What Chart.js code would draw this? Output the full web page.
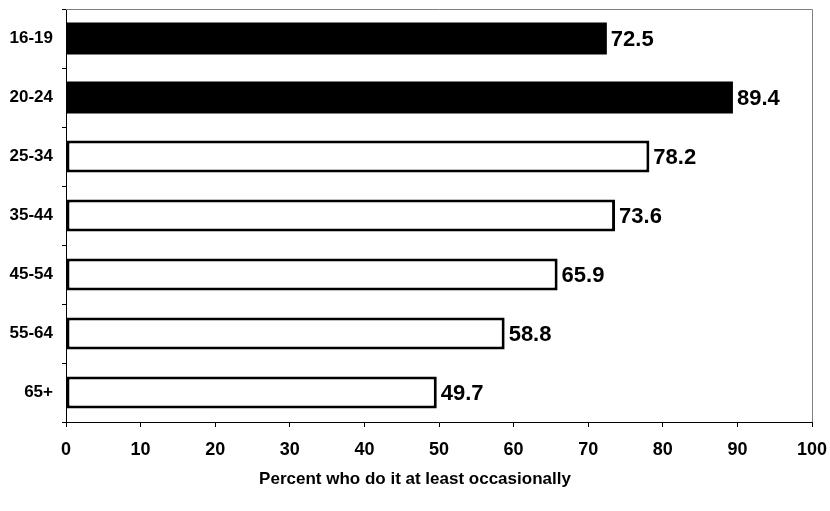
<!DOCTYPE html>
<html>
<head>
<meta charset="utf-8">
<script src="https://cdn.jsdelivr.net/npm/chart.js@4"></script>
<style>
  html, body { margin: 0; padding: 0; background: #fff; }
  canvas { display: block; }
</style>
</head>
<body>
<canvas id="chart" width="830" height="511"></canvas>
<script>
// Age groups and the share who do it at least occasionally (%)
const ageGroups = ['16-19', '20-24', '25-34', '35-44', '45-54', '55-64', '65+'];
const percentValues = [72.5, 89.4, 78.2, 73.6, 65.9, 58.8, 49.7];
// Youngest two groups are highlighted as solid bars
const highlighted = [true, true, false, false, false, false, false];
const xTicks = [0, 10, 20, 30, 40, 50, 60, 70, 80, 90, 100];
const xTitle = 'Percent who do it at least occasionally';

const FONT = '"Liberation Sans", Arial, Helvetica, sans-serif';

// Gray frame on the top and right edges of the plot area
const framePlugin = {
  id: 'frame',
  beforeDatasetsDraw(chart) {
    const { ctx, chartArea: a } = chart;
    ctx.save();
    ctx.strokeStyle = '#808080';
    ctx.lineWidth = 1;
    ctx.beginPath();
    ctx.moveTo(a.left, a.top + 0.5);
    ctx.lineTo(a.right + 0.5, a.top + 0.5);
    ctx.lineTo(a.right + 0.5, a.bottom);
    ctx.stroke();
    ctx.restore();
  }
};

// Value labels to the right of each bar
const valueLabelPlugin = {
  id: 'valueLabels',
  afterDatasetsDraw(chart) {
    const { ctx } = chart;
    const meta = chart.getDatasetMeta(0);
    const data = chart.data.datasets[0].data;
    ctx.save();
    ctx.font = 'bold 22px ' + FONT;
    ctx.fillStyle = '#000';
    ctx.textAlign = 'left';
    ctx.textBaseline = 'middle';
    meta.data.forEach((bar, i) => {
      ctx.fillText(data[i].toFixed(1), bar.x + 4, bar.y + 1);
    });
    ctx.restore();
  }
};

new Chart(document.getElementById('chart'), {
  type: 'bar',
  data: {
    labels: ageGroups,
    datasets: [{
      data: percentValues,
      backgroundColor: highlighted.map(h => h ? '#000000' : '#ffffff'),
      borderColor: '#000000',
      borderWidth: highlighted.map(h => h ? 0 : 3),
      borderSkipped: false,
      categoryPercentage: 1,
      barPercentage: 0.54
    }]
  },
  options: {
    indexAxis: 'y',
    responsive: false,
    animation: false,
    devicePixelRatio: 1,
    layout: { padding: { top: 9, right: 0, bottom: 0, left: 0 } },
    plugins: {
      legend: { display: false },
      tooltip: { enabled: false },
      // Axis caption, centred across the full canvas width
      title: {
        display: true,
        position: 'bottom',
        text: xTitle,
        color: '#000',
        padding: { top: 0, bottom: 21 },
        font: { family: FONT, size: 17, weight: 'bold', lineHeight: 1.2 }
      }
    },
    scales: {
      x: {
        min: 0,
        max: 100,
        afterBuildTicks(scale) {
          scale.ticks = xTicks.map(v => ({ value: v }));
        },
        afterFit(scale) {
          scale.height = 47.6;
          scale.paddingLeft = 0;
          scale.paddingRight = 18;
        },
        grid: {
          drawOnChartArea: false,
          drawTicks: true,
          tickLength: 5,
          color: '#000'
        },
        border: { color: '#000', width: 1 },
        ticks: {
          color: '#000',
          padding: 12,
          maxRotation: 0,
          font: { family: FONT, size: 18, weight: 'bold' }
        }
      },
      y: {
        afterFit(scale) {
          scale.width = 66;
          scale.paddingTop = 0;
          scale.paddingBottom = 0;
        },
        grid: {
          offset: true,
          drawOnChartArea: false,
          drawTicks: true,
          tickLength: 4,
          color: '#000'
        },
        border: { color: '#000', width: 1 },
        ticks: {
          color: '#000',
          padding: 9,
          font: { family: FONT, size: 17, weight: 'bold' }
        }
      }
    }
  },
  plugins: [framePlugin, valueLabelPlugin]
});
</script>
</body>
</html>
